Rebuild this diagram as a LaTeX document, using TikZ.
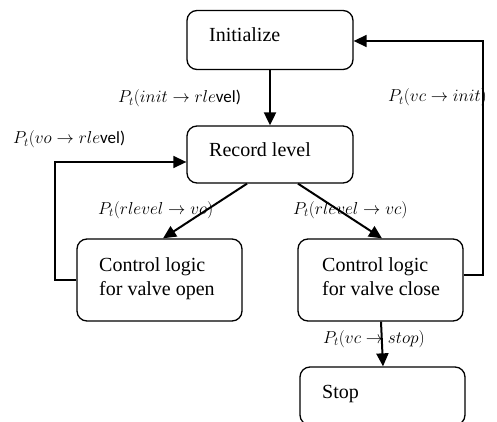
\documentclass[tikz,border=0pt]{standalone}
\usepackage{fontspec}
\setmainfont{Liberation Serif}
\newfontfamily\uprsans{Carlito}
\usetikzlibrary{arrows.meta}

\tikzset{
  statebox/.style={draw, line width=1.3pt, rounded corners=10pt, inner sep=0pt},
  boxtext/.style={anchor=base west, inner sep=0pt, font=\fontsize{20}{24}\selectfont, align=left},
  translabel/.style={anchor=base west, inner sep=0pt, font=\fontsize{17}{20}\selectfont},
  flow/.style={line width=2pt, -{Triangle[length=13pt,width=12pt]}},
  backflow/.style={line width=1.5pt, -{Triangle[length=13pt,width=12pt]}},
}

\begin{document}
\begin{tikzpicture}[x=1pt, y=-1pt]
  \clip (0,0) rectangle (497,422);
  \fill[white] (0,0) rectangle (497,422);

  % state boxes
  \node[statebox, minimum width=166pt, minimum height=59pt] (init)  at (270,40)    {};
  \node[statebox, minimum width=166pt, minimum height=57pt] (rec)   at (270,154.5) {};
  \node[statebox, minimum width=165pt, minimum height=82pt] (open)  at (159.5,280) {};
  \node[statebox, minimum width=165pt, minimum height=82pt] (close) at (380.5,280) {};
  \node[statebox, minimum width=165pt, minimum height=58pt] (stop)  at (382.5,396) {};

  % box captions (base anchor sits on the last line of a two-line caption)
  \node[boxtext] (tinit)  at (209,42)  {Initialize};
  \node[boxtext] (trec)   at (209,157) {Record level};
  \node[boxtext] (topen)  at (99,295)  {Control logic\\for valve open};
  \node[boxtext] (tclose) at (322,295) {Control logic\\for valve close};
  \node[boxtext] (tstop)  at (322,398) {Stop};

  % transition probabilities
  \node[translabel] (l1) at (118,103) {$P_t(init \rightarrow rle$\uprsans vel)};
  \node[translabel] (l2) at (13,144)  {$P_t(vo \rightarrow rle$\uprsans vel)};
  \node[translabel] (l3) at (388,102) {$P_t(vc \rightarrow init)$};
  \node[translabel] (l4) at (98,214)  {$P_t(rlevel \rightarrow vo)$};
  \node[translabel] (l5) at (293,214) {$P_t(rlevel \rightarrow vc)$};
  \node[translabel] (l6) at (323,343) {$P_t(vc \rightarrow stop)$};

  % loop corners
  \coordinate (lx) at (55,0);
  \coordinate (rx) at (483,0);

  % transitions
  \draw[flow] (init.south) -- (rec.north);
  \draw[flow] ([xshift=-23pt]rec.south) -- ([xshift=3.5pt]open.north);
  \draw[flow] ([xshift=28pt]rec.south) -- ([xshift=1.5pt]close.north);
  \draw[flow] ([xshift=0.5pt]close.south) -- ([xshift=0.5pt]stop.north);
  \draw[backflow] (open.west) -- (open.west -| lx) |- ([yshift=-7.5pt]rec.west);
  \draw[backflow] ([yshift=5pt]close.east) -- ([yshift=5pt]close.east -| rx) |- ([yshift=-1pt]init.east);
\end{tikzpicture}
\end{document}
